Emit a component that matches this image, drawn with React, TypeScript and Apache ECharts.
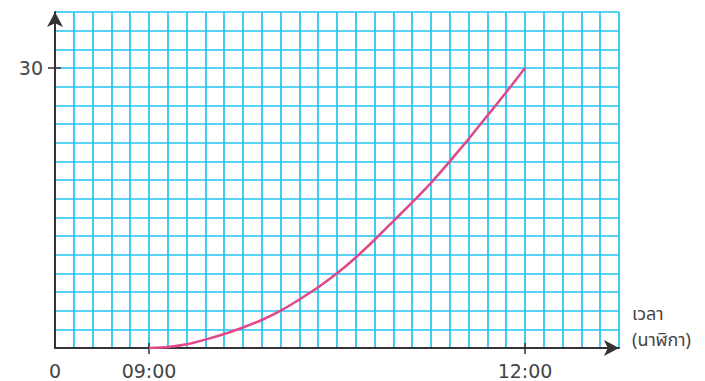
import React, { useEffect, useRef } from "react";
import * as echarts from "echarts";

// time in minutes after midnight (each grid cell = 9 minutes)
const times = [540, 549, 558, 567, 576, 585, 594, 603, 612, 621, 630, 639, 648, 657, 666, 675, 684, 693, 702, 711, 720];
const values = [0, 0.1, 0.4, 0.9, 1.5, 2.2, 3.0, 4.0, 5.2, 6.5, 8.0, 9.7, 11.6, 13.6, 15.6, 17.7, 20.0, 22.4, 24.9, 27.4, 30];
const xLabelValues = [495, 540, 720];
const xTickValues = [540, 720];
const yLabelValues = [30];
const xNameLines = ["เวลา", "(นาฬิกา)"];

const fmtTime = (v: number) => {
  if (v === 495) return "0";
  const h = Math.floor(v / 60);
  const m = v % 60;
  return String(h).padStart(2, "0") + ":" + String(m).padStart(2, "0");
};

export default function App() {
  const ref = useRef<HTMLDivElement>(null);
  useEffect(() => {
    if (!ref.current) return;
    const chart = echarts.init(ref.current, undefined, { renderer: "svg" });
    const gridColor = "#22c2ee";
    const axisColor = "#333333";
    const font = "'DejaVu Sans', 'Liberation Sans', sans-serif";
    const thaiFont = "'Noto Sans Thai', 'Noto Sans', 'DejaVu Sans', sans-serif";
    const xBase = { type: "value", min: 495, max: 765, interval: 9, position: "bottom" };
    const yBase = { type: "value", min: 0, max: 36, interval: 2, position: "left" };
    const tickStyle = { color: axisColor, width: 1.5 };
    chart.setOption({
      animation: false,
      backgroundColor: "#ffffff",
      grid: { left: 55, top: 12, right: 86, bottom: 33 },
      xAxis: [
        {
          ...xBase,
          axisLine: {
            show: true,
            symbol: ["none", "arrow"],
            symbolSize: [12, 15],
            lineStyle: { color: axisColor, width: 2 },
          },
          axisTick: { show: false },
          axisLabel: { show: false },
          splitLine: { show: true, lineStyle: { color: gridColor, width: 1.7 } },
          z: 3,
        },
        {
          ...xBase,
          axisLine: { show: false },
          axisTick: { show: true, customValues: xTickValues, length: 6, lineStyle: tickStyle },
          axisLabel: {
            customValues: xLabelValues,
            formatter: (v: number) => fmtTime(v),
            color: "#444444",
            fontSize: 19,
            fontFamily: font,
            margin: 13,
          },
          splitLine: { show: false },
          z: 4,
        },
        {
          ...xBase,
          axisLine: { show: false },
          axisTick: { show: true, inside: true, customValues: xTickValues, length: 5, lineStyle: tickStyle },
          axisLabel: { show: false },
          splitLine: { show: false },
          z: 4,
        },
      ],
      yAxis: [
        {
          ...yBase,
          axisLine: {
            show: true,
            symbol: ["none", "arrow"],
            symbolSize: [12, 15],
            lineStyle: { color: axisColor, width: 2 },
          },
          axisTick: { show: false },
          axisLabel: { show: false },
          splitLine: { show: true, lineStyle: { color: gridColor, width: 1.7 } },
          z: 3,
        },
        {
          ...yBase,
          axisLine: { show: false },
          axisTick: { show: true, customValues: yLabelValues, length: 7, lineStyle: tickStyle },
          axisLabel: {
            customValues: yLabelValues,
            color: "#444444",
            fontSize: 19,
            fontFamily: font,
            margin: 12,
          },
          splitLine: { show: false },
          z: 4,
        },
        {
          ...yBase,
          axisLine: { show: false },
          axisTick: { show: true, inside: true, customValues: yLabelValues, length: 6, lineStyle: tickStyle },
          axisLabel: { show: false },
          splitLine: { show: false },
          z: 4,
        },
      ],
      graphic: [
        {
          type: "text",
          left: 632,
          top: 305,
          style: { text: xNameLines[0], fill: "#444444", fontSize: 18, fontFamily: thaiFont },
        },
        {
          type: "text",
          left: 632,
          top: 331,
          style: { text: xNameLines[1], fill: "#444444", fontSize: 18, fontFamily: thaiFont },
        },
      ],
      series: [
        {
          type: "line",
          xAxisIndex: 0,
          yAxisIndex: 0,
          data: times.map((t, i) => [t, values[i]]),
          smooth: 0.2,
          showSymbol: false,
          lineStyle: { color: "#e0488c", width: 2.5 },
          z: 5,
        },
      ],
    });
    return () => chart.dispose();
  }, []);
  return (
    <div
      ref={ref}
      style={{ position: "fixed", left: 0, top: 0, width: 705, height: 381 }}
    />
  );
}
